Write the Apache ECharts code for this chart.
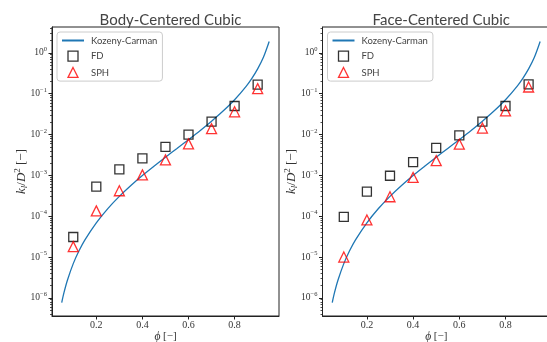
<!DOCTYPE html>
<html><head><meta charset="utf-8">
<script src="https://cdn.jsdelivr.net/npm/echarts@6/dist/echarts.min.js"></script>
<style>html,body{margin:0;padding:0;background:#fff}#c{width:547px;height:342px}</style>
</head><body><div id="c"></div>
<script>
// ---- data ----
const titles = ['Body-Centered Cubic', 'Face-Centered Cubic'];
const seriesNames = ['Kozeny-Carman', 'FD', 'SPH'];
const phiPoints = [0.1, 0.2, 0.3, 0.4, 0.5, 0.6, 0.7, 0.8, 0.9];
const kcPhi = [0.05, 0.06, 0.075, 0.1, 0.125, 0.15, 0.2, 0.25, 0.3, 0.35, 0.4, 0.45, 0.5, 0.55, 0.6, 0.65, 0.7, 0.75, 0.8, 0.85, 0.875, 0.9, 0.925, 0.95];
const kcValues = [7.7e-7, 1.36e-6, 2.74e-6, 6.9e-6, 1.42e-5, 2.6e-5, 6.9e-5, 1.54e-4, 3.06e-4, 5.64e-4, 9.9e-4, 1.67e-3, 2.78e-3, 4.56e-3, 7.5e-3, 0.01245, 0.0212, 0.0375, 0.0711, 0.1516, 0.238, 0.405, 0.782, 1.905];
const bccFD  = [3.1e-5, 5.3e-4, 1.4e-3, 2.6e-3, 5.0e-3, 9.9e-3, 0.0206, 0.050, 0.167];
const bccSPH = [1.8e-5, 1.35e-4, 4.2e-4, 1.03e-3, 2.4e-3, 5.9e-3, 0.0139, 0.036, 0.133];
const fccFD  = [9.6e-5, 4.0e-4, 9.8e-4, 2.1e-3, 4.7e-3, 9.5e-3, 0.0206, 0.050, 0.17];
const fccSPH = [1.0e-5, 8.1e-5, 3.0e-4, 8.9e-4, 2.3e-3, 5.8e-3, 0.0144, 0.038, 0.146];
const xTicks = [0.2, 0.4, 0.6, 0.8];
const yTicks = [1e-6, 1e-5, 1e-4, 1e-3, 1e-2, 1e-1, 1];

// ---- layout / style ----
const X_MIN = 0.0078, X_MAX = 0.9926;
const Y_MIN = 3.6e-7, Y_MAX = 4.3;
const yMinor = [];
for (let e = -7; e <= 0; e++) {
  for (let m = 2; m <= 9; m++) {
    const v = m * Math.pow(10, e);
    if (v > Y_MIN && v < Y_MAX) yMinor.push(v);
  }
}
const serif = '"Liberation Serif", "DejaVu Serif", serif';
const sans = 'Lato, "DejaVu Sans", sans-serif';
const axisColor = '#222';
const grids = [
  {left: 52, top: 27, width: 227, height: 289},
  {left: 322.5, top: 27, width: 227.5, height: 289}
];

function zip(xs, ys) { return xs.map((x, i) => [x, ys[i]]); }

function fmtY(v) {
  const e = Math.round(Math.log10(v));
  const s = e < 0 ? '\u2212' + (-e) : String(e);
  return '{b|10}{s|' + s + '}';
}

const legendIcons = {
  'Kozeny-Carman': null,
  'FD': 'path://M0,0H10V10H0Z',
  'SPH': 'path://M5,0L10,10H0Z'
};

const xAxes = [], yAxes = [], series = [], legends = [], titleOpts = [];
grids.forEach((g, gi) => {
  titleOpts.push({
    text: titles[gi], left: g.left + g.width / 2, top: 8, textAlign: 'center',
    textStyle: {fontFamily: sans, fontSize: 15, fontWeight: 'normal', color: '#444'}
  });
  xAxes.push({
    gridIndex: gi, type: 'value', min: X_MIN, max: X_MAX,
    axisLine: {show: true, lineStyle: {color: axisColor, width: 1}},
    axisTick: {show: true, inside: false, length: 3.5, customValues: xTicks, lineStyle: {color: axisColor, width: 1}},
    axisLabel: {customValues: xTicks, margin: 4, formatter: v => v.toFixed(1),
      fontFamily: serif, fontSize: 10, color: '#333'},
    splitLine: {show: false},
    name: '{i|\u03D5} [\u2212]', nameLocation: 'middle', nameGap: 14.5, nameMoveOverlap: false,
    nameTextStyle: {fontFamily: serif, fontSize: 11, color: '#333',
      rich: {i: {fontFamily: serif, fontStyle: 'italic', fontSize: 11.5, color: '#333'}}}
  });
  yAxes.push({
    gridIndex: gi, type: 'log', logBase: 10, min: Y_MIN, max: Y_MAX, position: 'left',
    axisLine: {show: true, lineStyle: {color: axisColor, width: 1}},
    axisTick: {show: true, inside: false, length: 3.5, customValues: yTicks, lineStyle: {color: axisColor, width: 1}},
    axisLabel: {customValues: yTicks, margin: 5, formatter: fmtY,
      rich: {
        b: {fontFamily: serif, fontSize: 9.5, color: '#333'},
        s: {fontFamily: serif, fontSize: 6.5, color: '#333', padding: [0, 0, 7, 0]}
      }},
    splitLine: {show: false}, minorTick: {show: false},
    name: '{i|k}{sub|l}{n|/}{i|D}{sup|2}{n| [\u2212]}', nameLocation: 'middle', nameGap: 22, nameRotate: 90,
    nameMoveOverlap: false,
    nameTextStyle: {
      rich: {
        i: {fontFamily: serif, fontStyle: 'italic', fontSize: 13, color: '#333'},
        n: {fontFamily: serif, fontSize: 13, color: '#333'},
        sub: {fontFamily: serif, fontStyle: 'italic', fontSize: 9, color: '#333', padding: [6, 0, 0, 0]},
        sup: {fontFamily: serif, fontSize: 9, color: '#333', padding: [0, 0, 8, 0]}
      }
    }
  });
  yAxes.push({
    gridIndex: gi, type: 'log', logBase: 10, min: Y_MIN, max: Y_MAX, position: 'left', offset: 0,
    axisLine: {show: false},
    axisTick: {show: true, inside: false, length: 2, customValues: yMinor, lineStyle: {color: axisColor, width: 0.8}},
    axisLabel: {show: false}, splitLine: {show: false}
  });
  const fd = gi === 0 ? bccFD : fccFD;
  const sph = gi === 0 ? bccSPH : fccSPH;
  series.push({
    name: seriesNames[0], type: 'line', xAxisIndex: gi, yAxisIndex: gi * 2,
    data: zip(kcPhi, kcValues), smooth: 0.3, symbol: 'none', showSymbol: false,
    lineStyle: {color: '#1f77b4', width: 1.3}, itemStyle: {color: '#1f77b4'}, z: 2
  });
  series.push({
    name: seriesNames[1], type: 'scatter', xAxisIndex: gi, yAxisIndex: gi * 2,
    data: zip(phiPoints, fd), symbol: 'rect', symbolSize: 9,
    itemStyle: {color: 'rgba(255,255,255,0)', borderColor: '#000', borderWidth: 1.3}, z: 3
  });
  series.push({
    name: seriesNames[2], type: 'scatter', xAxisIndex: gi, yAxisIndex: gi * 2,
    data: zip(phiPoints, sph), symbol: 'triangle', symbolSize: 10,
    itemStyle: {color: 'rgba(255,255,255,0)', borderColor: '#ff0000', borderWidth: 1.3}, z: 4
  });
  legends.push({
    orient: 'vertical', left: g.left + 5, top: 32,
    data: seriesNames.map(n => legendIcons[n]
      ? {name: n, icon: legendIcons[n]}
      : {name: n, itemStyle: {opacity: 0}}),
    itemWidth: 22, itemHeight: 10, itemGap: 5, symbolKeepAspect: true,
    padding: [3.5, 5, 3, 4], backgroundColor: 'rgba(255,255,255,0.8)',
    borderColor: '#ccc', borderWidth: 1, borderRadius: 3,
    itemStyle: {borderWidth: 1.3},
    selectedMode: false,
    textStyle: {fontFamily: sans, fontSize: 9.5, color: '#444', padding: [0, 0, 0, 2]}
  });
});

const chart = echarts.init(document.getElementById('c'), null, {renderer: 'canvas'});
chart.setOption({
  animation: false,
  backgroundColor: '#fff',
  title: titleOpts,
  grid: grids.map(g => Object.assign({show: true, borderColor: axisColor, borderWidth: 1,
    backgroundColor: 'transparent', containLabel: false, outerBoundsMode: 'none'}, g)),
  xAxis: xAxes, yAxis: yAxes, legend: legends, series: series
});
</script></body></html>
